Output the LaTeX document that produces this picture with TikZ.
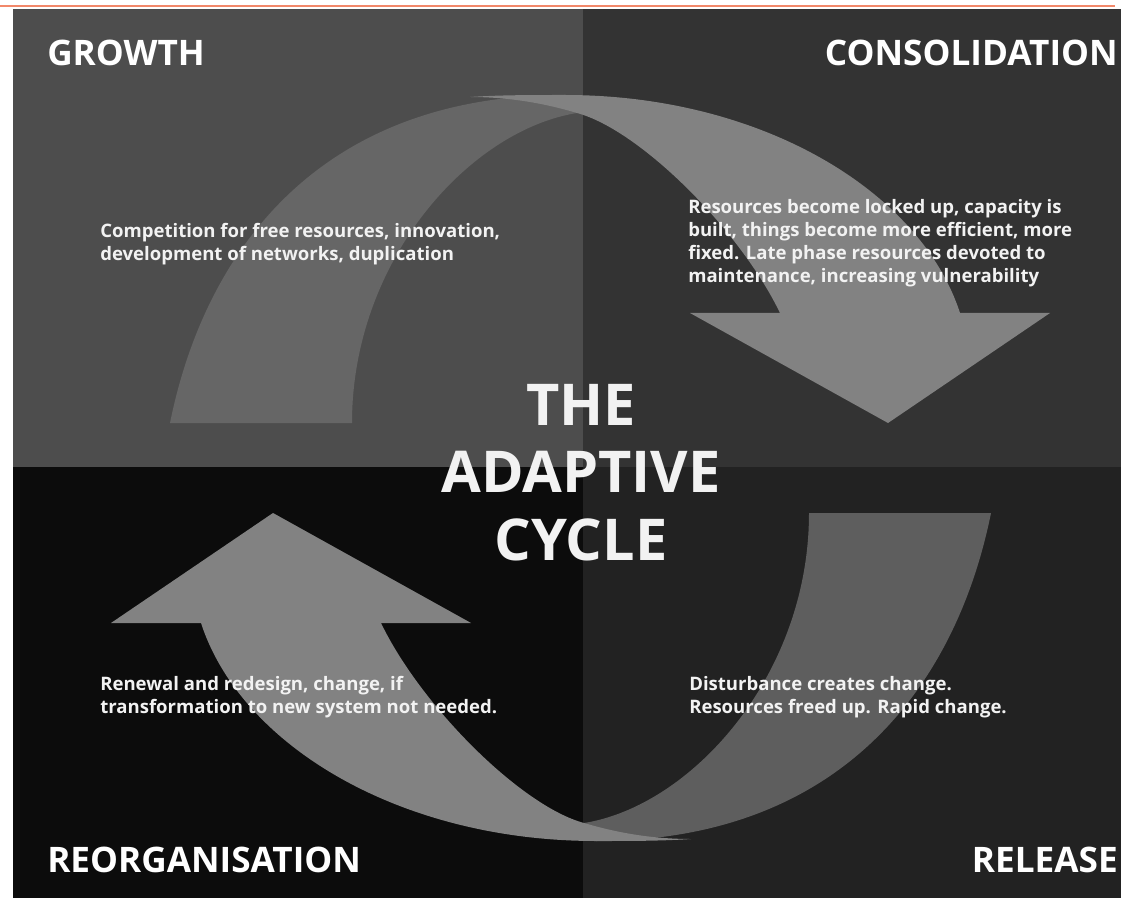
\documentclass[tikz,border=0pt]{standalone}
\usepackage{fontspec}
\setmainfont{Open Sans}
\usepackage{xcolor}

\definecolor{growthbg}{HTML}{4D4D4D}
\definecolor{consbg}{HTML}{333333}
\definecolor{reorgbg}{HTML}{0C0C0C}
\definecolor{releasebg}{HTML}{222222}
\definecolor{bandfront}{HTML}{828282}
\definecolor{bandbackup}{HTML}{666666}
\definecolor{bandbackdown}{HTML}{5E5E5E}
\definecolor{topline}{HTML}{F2886A}

% one half of the cycle: the back of the band and the front with its head
\newcommand{\cyclehalf}[1]{%
  \fill[#1] (352,423) -- (170,423) .. controls (205,250) and (320,95) .. (565,95)
      -- (577,113) .. controls (470,130) and (352,260) .. (352,423) -- cycle;
  \fill[bandfront] (470,97) .. controls (500,95) and (530,95) .. (565,95)
      .. controls (760,95) and (920,190) .. (960,313) -- (1050,313) -- (888,423)
      -- (690,313) -- (780,313) .. controls (740,230) and (640,130) .. (577,113)
      .. controls (540,102) and (505,97) .. (470,97) -- cycle;
}

\begin{document}
\begin{tikzpicture}[
    x=0.025cm, y=-0.025cm,
    phase/.style={text=white, inner sep=0pt, font=\bfseries\fontsize{25}{29}\selectfont},
    desc/.style={text=white!95!black, inner sep=0pt, align=left, font=\bfseries\fontsize{13.2}{16.4}\selectfont},
    title/.style={text=white!95!black, inner sep=0pt, align=center, font=\bfseries\fontsize{41}{48}\selectfont}
]
\useasboundingbox (0,0) rectangle (1123,898);

% page and top rule
\fill[white] (0,0) rectangle (1123,898);
\draw[topline, line width=0.7mm] (0,6) -- (1115,6);

% the four quadrants
\fill[growthbg] (13,9) rectangle (583,467);
\fill[consbg] (583,9) rectangle (1121,467);
\fill[reorgbg] (13,467) rectangle (583,898);
\fill[releasebg] (583,467) rectangle (1121,898);

% upper and lower halves of the band
\cyclehalf{bandbackup}
\begin{scope}[rotate around={180:(580.5,468)}]
  \cyclehalf{bandbackdown}
\end{scope}

% phase names
\node[phase, anchor=north west] (growth) at (47,40) {GROWTH};
\node[phase, anchor=north east] (consolidation) at (1118,40) {CONSOLIDATION};
\node[phase, anchor=north west] (reorganisation) at (47,847) {REORGANISATION};
\node[phase, anchor=north east] (release) at (1118,847) {RELEASE};

% descriptions
\node[desc, anchor=north west] (growthtext) at (100,223)
    {Competition for free resources, innovation,\\development of networks, duplication};
\node[desc, anchor=north west] (constext) at (688,199)
    {Resources become locked up, capacity is\\built, things become more efficient, more\\fixed. Late phase resources devoted to\\maintenance, increasing vulnerability};
\node[desc, anchor=north west] (reorgtext) at (100,676)
    {Renewal and redesign, change, if\\transformation to new system not needed.};
\node[desc, anchor=north west] (releasetext) at (689,676)
    {Disturbance creates change.\\Resources freed up. Rapid change.};

% centre title
\node[title, anchor=north] (cycle) at (581,384) {THE\\ADAPTIVE\\CYCLE};

\end{tikzpicture}
\end{document}
